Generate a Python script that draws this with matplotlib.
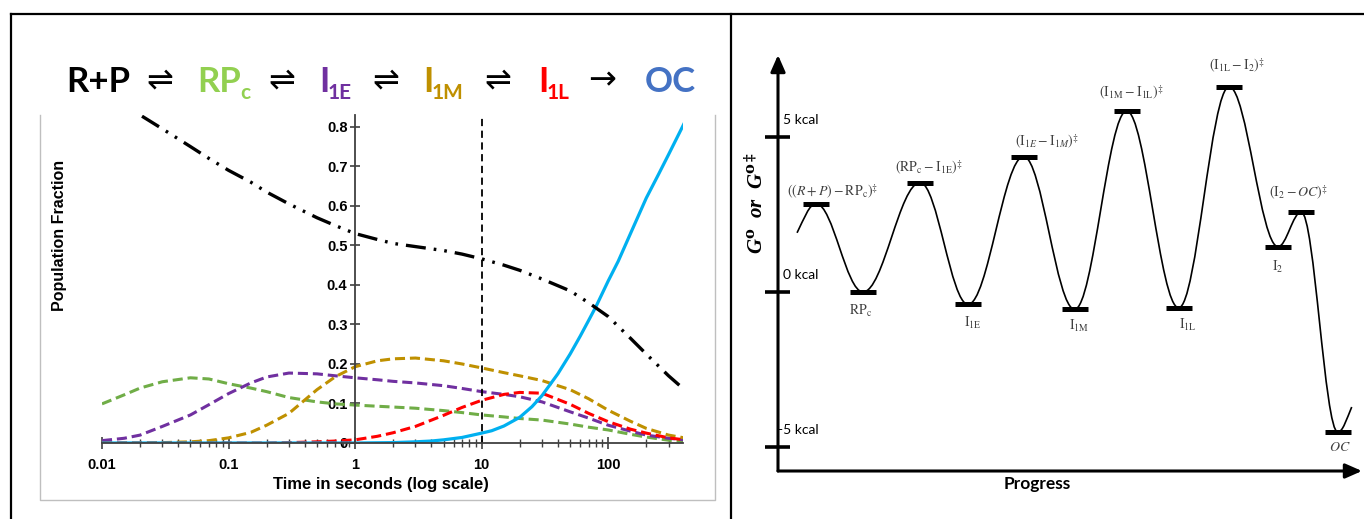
import numpy as np
import matplotlib
matplotlib.use("Agg")
import matplotlib.pyplot as plt
from matplotlib.path import Path
from matplotlib.patches import PathPatch, ArrowStyle
from matplotlib.ticker import LogLocator, FixedLocator, FixedFormatter, NullFormatter
from matplotlib.lines import Line2D

# ---------------- data: population kinetics ----------------
time_s = [0.01, 0.015, 0.02, 0.03, 0.05, 0.07, 0.1, 0.15, 0.2, 0.3, 0.5, 0.7, 1, 1.5,
          2, 3, 5, 7, 10, 15, 20, 30, 50, 70, 100, 150, 200, 300, 400]
rp_free = [0.90, 0.86, 0.83, 0.795, 0.75, 0.72, 0.69, 0.66, 0.635, 0.605, 0.57, 0.55, 0.53, 0.515,
           0.505, 0.497, 0.487, 0.478, 0.466, 0.45, 0.437, 0.415, 0.385, 0.355, 0.32, 0.265, 0.225, 0.17, 0.135]
rpc = [0.099, 0.122, 0.139, 0.155, 0.165, 0.162, 0.150, 0.139, 0.130, 0.115, 0.104, 0.099, 0.096, 0.093,
       0.091, 0.088, 0.082, 0.077, 0.071, 0.066, 0.062, 0.058, 0.048, 0.040, 0.033, 0.022, 0.015, 0.007, 0.003]
i1e = [0.006, 0.012, 0.020, 0.042, 0.071, 0.097, 0.125, 0.152, 0.167, 0.177, 0.175, 0.170, 0.165, 0.160,
       0.156, 0.152, 0.145, 0.138, 0.130, 0.123, 0.117, 0.104, 0.079, 0.063, 0.045, 0.030, 0.020, 0.012, 0.008]
i1m = [0.0, 0.0, 0.0, 0.001, 0.003, 0.006, 0.013, 0.027, 0.045, 0.075, 0.135, 0.168, 0.193, 0.208,
       0.213, 0.215, 0.208, 0.200, 0.190, 0.178, 0.170, 0.158, 0.135, 0.112, 0.083, 0.055, 0.037, 0.020, 0.013]
i1l = [0.0, 0.0, 0.0, 0.0, 0.0, 0.0, 0.0, 0.0, 0.0, 0.001, 0.003, 0.005, 0.008, 0.017,
       0.026, 0.042, 0.070, 0.090, 0.108, 0.123, 0.128, 0.126, 0.098, 0.075, 0.054, 0.035, 0.025, 0.013, 0.008]
oc_time = [0.01, 1, 2, 3, 4, 5, 7, 10, 12, 15, 20, 25, 30, 40, 50, 60, 70, 80, 100, 120,
           150, 200, 250, 300, 400]
oc = [0.0, 0.0, 0.001, 0.003, 0.005, 0.008, 0.014, 0.025, 0.031, 0.043, 0.065, 0.092, 0.12, 0.175,
      0.225, 0.27, 0.31, 0.345, 0.41, 0.46, 0.53, 0.62, 0.68, 0.73, 0.81]
marker_time = 10
y_ticks = [0, 0.1, 0.2, 0.3, 0.4, 0.5, 0.6, 0.7, 0.8]
y_tick_labels = ["0", "0.1", "0.2", "0.3", "0.4", "0.5", "0.6", "0.7", "0.8"]
x_ticks = [0.01, 0.1, 1, 10, 100]
x_tick_labels = ["0.01", "0.1", "1", "10", "100"]

# ---------------- data: energy diagram ----------------
state_names = ["start", "TS1", "RPc", "TS2", "I1E", "TS3", "I1M", "TS4", "I1L", "TS5", "I2", "TS6", "OC", "end"]
progress = [0.37, 0.74, 1.65, 2.76, 3.69, 4.77, 5.76, 6.77, 7.78, 8.76, 9.71, 10.16, 10.87, 11.14]
energy_kcal = [1.91, 2.85, 0.0, 3.53, -0.40, 4.37, -0.56, 5.84, -0.51, 6.62, 1.46, 2.58, -4.52, -3.71]
state_labels = {
    "TS1": r"$\left((R+P)-\mathrm{RP_c}\right)^{\ddagger}$",
    "TS2": r"$(\mathrm{RP_c}-\mathrm{I_{1E}})^{\ddagger}$",
    "TS3": r"$(\mathrm{I}_{1E}-\mathrm{I}_{1M})^{\ddagger}$",
    "TS4": r"$(\mathrm{I_{1M}}-\mathrm{I_{1L}})^{\ddagger}$",
    "TS5": r"$(\mathrm{I_{1L}}-\mathrm{I_{2}})^{\ddagger}$",
    "TS6": r"$(\mathrm{I_{2}}-OC)^{\ddagger}$",
    "RPc": r"$\mathrm{RP_c}$",
    "I1E": r"$\mathrm{I_{1E}}$",
    "I1M": r"$\mathrm{I_{1M}}$",
    "I1L": r"$\mathrm{I_{1L}}$",
    "I2": r"$\mathrm{I_{2}}$",
    "OC": r"$OC$",
}
kcal_ticks = [5, 0, -5]
kcal_tick_labels = ["5 kcal", "0 kcal", "-5 kcal"]

# label offsets (pixels: dx right, dy up) relative to each state bar
label_offsets = {
    "TS1": (17, 12), "TS2": (9, 15), "TS3": (23, 15), "TS4": (5, 18), "TS5": (8, 21), "TS6": (-3, 19),
    "RPc": (-2, -19), "I1E": (5, -19), "I1M": (4, -17), "I1L": (9, -17), "I2": (0, -20), "OC": (2, -15),
}

# ---------------- figure ----------------
W, H = 1364, 519
fig = plt.figure(figsize=(W / 100, H / 100), dpi=100)
fig.patch.set_facecolor("white")

def fx(px):
    return px / W

def fy(py):
    return 1 - py / H

# overlay in pixel coordinates for frame and scheme text
ov = fig.add_axes([0, 0, 1, 1])
ov.set_xlim(0, W)
ov.set_ylim(H, 0)
ov.axis("off")
ov.patch.set_alpha(0)

frame_kw = dict(color="black", lw=1.6)
ov.add_line(Line2D([11, W], [14, 14], **frame_kw))
ov.add_line(Line2D([11, 11], [14, H], **frame_kw))
ov.add_line(Line2D([731, 731], [14, H], **frame_kw))
gray_kw = dict(color="#BFBFBF", lw=1.0)
ov.add_line(Line2D([40, 40, 715, 715], [115, 500, 500, 115], **gray_kw))

# reaction scheme
big = 25
sub = 15
base_y = 92
sub_y = 99
pieces = [
    (66, "R+P", "black", big, base_y, "bold"),
    (146, "\u21cc", "black", 23, base_y - 3, "normal"),
    (197, "RP", "#92D050", big, base_y, "bold"),
    (240, "c", "#92D050", sub, sub_y, "bold"),
    (268, "\u21cc", "black", 23, base_y - 3, "normal"),
    (319, "I", "#7030A0", big, base_y, "bold"),
    (328, "1E", "#7030A0", sub, sub_y, "bold"),
    (372, "\u21cc", "black", 23, base_y - 3, "normal"),
    (423, "I", "#BF9000", big, base_y, "bold"),
    (432, "1M", "#BF9000", sub, sub_y, "bold"),
    (484, "\u21cc", "black", 23, base_y - 3, "normal"),
    (538, "I", "#FF0000", big, base_y, "bold"),
    (547, "1L", "#FF0000", sub, sub_y, "bold"),
    (588, "\u2192", "black", 24, base_y - 3, "normal"),
    (645, "OC", "#4472C4", big, base_y, "bold"),
]
for x, s, c, size, yb, wt in pieces:
    fam = ["DejaVu Sans"] if s in ("\u21cc", "\u2192") else ["Lato", "DejaVu Sans"]
    ov.text(x, yb, s, color=c, fontsize=size, fontweight=wt, family=fam,
            ha="left", va="baseline")

# ---------------- left: kinetics plot ----------------
ax = fig.add_axes([fx(102), fy(443), fx(683 - 102), (443 - 115) / H])
ax.set_xscale("log")
ax.set_xlim(0.01, 390)
ax.set_ylim(0, 0.83)
ax.patch.set_alpha(0)

dash_col = (0, (3.3, 1.6))
ax.plot(time_s, rpc, color="#70AD47", lw=2.2, ls=dash_col)
ax.plot(time_s, i1e, color="#7030A0", lw=2.2, ls=dash_col)
ax.plot(time_s, i1m, color="#BF9000", lw=2.2, ls=dash_col)
ax.plot(time_s, i1l, color="#FF0000", lw=2.2, ls=dash_col)
ax.plot(oc_time, oc, color="#00B0F0", lw=2.3, solid_capstyle="round", solid_joinstyle="round")
ax.plot(time_s, rp_free, color="black", lw=2.4, ls=(0, (6.0, 2.4, 0.8, 2.4, 0.8, 2.4)))
ax.plot([marker_time, marker_time], [0, 0.83], color="black", lw=1.3, ls=(0, (4, 2.5)))

for s in ("top", "right"):
    ax.spines[s].set_visible(False)
ax.spines["left"].set_position(("data", 1))
ax.spines["left"].set_color("#404040")
ax.spines["bottom"].set_color("#404040")
ax.spines["left"].set_linewidth(1.3)
ax.spines["bottom"].set_linewidth(1.3)

ax.yaxis.set_major_locator(FixedLocator(y_ticks))
ax.yaxis.set_major_formatter(FixedFormatter(y_tick_labels))
ax.xaxis.set_major_locator(FixedLocator(x_ticks))
ax.xaxis.set_major_formatter(FixedFormatter(x_tick_labels))
ax.xaxis.set_minor_locator(LogLocator(base=10, subs=np.arange(2, 10)))
ax.xaxis.set_minor_formatter(NullFormatter())
ax.tick_params(axis="y", direction="inout", length=7, width=1.2, color="#404040", pad=2,
               labelsize=10.5)
ax.tick_params(axis="x", which="major", direction="inout", length=9, width=1.2,
               color="#404040", pad=6, labelsize=10.5)
ax.tick_params(axis="x", which="minor", direction="inout", length=6, width=1.0, color="#404040")
for lab in ax.get_xticklabels() + ax.get_yticklabels():
    lab.set_fontweight("bold")
    lab.set_family(["Liberation Sans", "DejaVu Sans"])

ax.set_ylabel("Population Fraction", fontsize=11.5, fontweight="bold",
              family=["Liberation Sans", "DejaVu Sans"])
ax.yaxis.set_label_coords((67 - 102) / 581, (443 - 235) / 328)
ax.set_xlabel("Time in seconds (log scale)", fontsize=12, fontweight="bold",
              family=["Liberation Sans", "DejaVu Sans"])
ax.xaxis.set_label_coords((381 - 102) / 581, (443 - 477) / 328)

# ---------------- right: energy diagram ----------------
PX_X = 51.5   # pixels per progress unit
PX_Y = 31.0   # pixels per kcal
ax2 = fig.add_axes([fx(778), fy(471), fx(1362 - 778), (471 - 55) / H])
ax2.set_xlim(0, 584 / PX_X)
ax2.set_ylim((292 - 471) / PX_Y, (292 - 55) / PX_Y)
ax2.axis("off")
ax2.patch.set_alpha(0)

astyle = ArrowStyle("-|>", head_length=0.5, head_width=0.22)
ax2.annotate("", xy=(0, 1), xytext=(0, 0), xycoords="axes fraction",
             arrowprops=dict(arrowstyle=astyle, lw=2.2, color="black", shrinkA=0, shrinkB=0,
                             mutation_scale=20), annotation_clip=False)
ax2.annotate("", xy=(1, 0), xytext=(0, 0), xycoords="axes fraction",
             arrowprops=dict(arrowstyle=astyle, lw=2.2, color="black", shrinkA=0, shrinkB=0,
                             mutation_scale=20), annotation_clip=False)

for v, lab in zip(kcal_ticks, kcal_tick_labels):
    ax2.plot([-0.25, 0.24], [v, v], color="black", lw=2.6, clip_on=False, solid_capstyle="butt")
    lx = 0.0 if v < 0 else 0.1
    ax2.text(lx, v + 0.55, lab, fontsize=10, family=["Lato", "DejaVu Sans"], ha="left", va="center",
             color="black")

# energy profile drawn as cubic Bezier segments through the states
verts = [(progress[0], energy_kcal[0])]
codes = [Path.MOVETO]
n = len(progress)
slopes = []
for i in range(n):
    if i == 0:
        slopes.append(1.3 * (energy_kcal[1] - energy_kcal[0]) / (progress[1] - progress[0]))
    elif i == n - 1:
        slopes.append(1.3 * (energy_kcal[-1] - energy_kcal[-2]) / (progress[-1] - progress[-2]))
    else:
        slopes.append(0.0)
h = 0.36
for i in range(n - 1):
    x0, y0, x1, y1 = progress[i], energy_kcal[i], progress[i + 1], energy_kcal[i + 1]
    dx = x1 - x0
    c1 = (x0 + h * dx, y0 + h * dx * slopes[i])
    c2 = (x1 - h * dx, y1 - h * dx * slopes[i + 1])
    verts += [c1, c2, (x1, y1)]
    codes += [Path.CURVE4, Path.CURVE4, Path.CURVE4]
ax2.add_patch(PathPatch(Path(verts, codes), facecolor="none", edgecolor="black", lw=1.2))

# state bars and labels
half = 0.25
for name, x, e in zip(state_names, progress, energy_kcal):
    if name in ("start", "end"):
        continue
    ax2.plot([x - half, x + half], [e, e], color="black", lw=3.6, solid_capstyle="butt")
    ox, oy = label_offsets[name]
    ax2.text(x + ox / PX_X, e + oy / PX_Y, state_labels[name], fontsize=10, color="#404040",
             ha="center", va="center", math_fontfamily="stix")

fig.text(fx(757), fy(203), r"G$^{\mathbf{o}}$  or  G$^{\mathbf{o\ddagger}}$", rotation=90,
         fontsize=15, fontweight="bold", fontstyle="italic", family=["Liberation Serif", "DejaVu Serif"],
         ha="center", va="center", math_fontfamily="dejavuserif")
fig.text(fx(1037), fy(484), "Progress", fontsize=12.5, fontweight="bold",
         family=["Lato", "DejaVu Sans"], ha="center", va="center")

fig.savefig("out.png", dpi=100, facecolor="white")
